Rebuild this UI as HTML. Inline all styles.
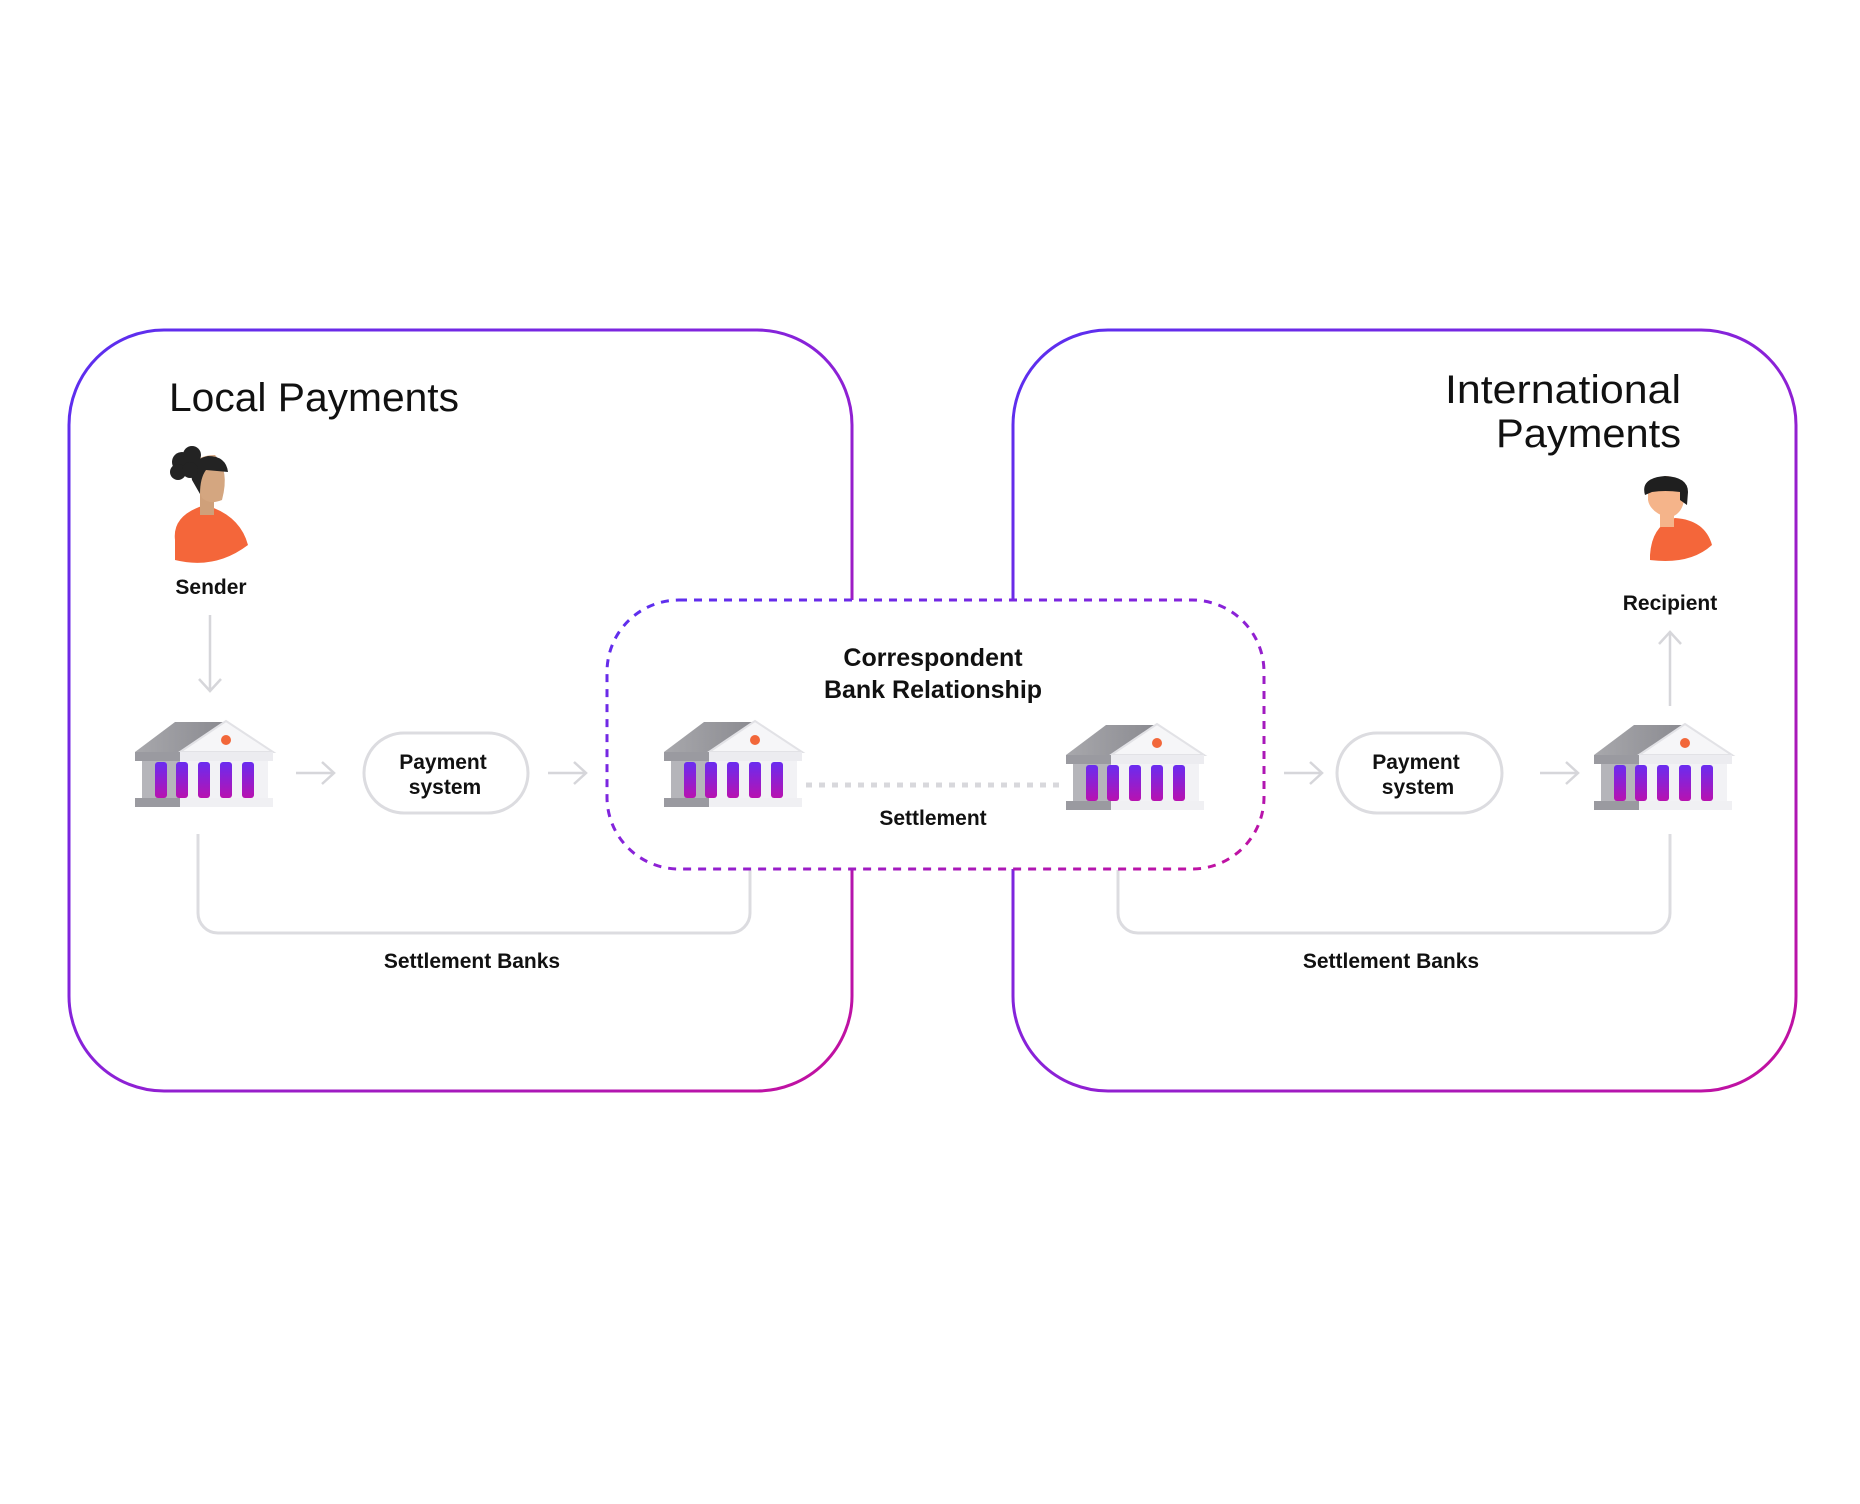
<!DOCTYPE html>
<html><head><meta charset="utf-8"><style>
html,body{margin:0;padding:0;background:#fff}
body{width:1860px;height:1499px;position:relative;overflow:hidden;font-family:"Liberation Sans",sans-serif}
</style></head><body>
<svg width="1860" height="1499" viewBox="0 0 1860 1499" xmlns="http://www.w3.org/2000/svg">
<defs>
<linearGradient id="g1" x1="0" y1="0" x2="1" y2="1">
<stop offset="0" stop-color="#5a2ff0"/><stop offset="0.5" stop-color="#8a22d8"/><stop offset="1" stop-color="#c4109e"/>
</linearGradient>
<linearGradient id="col" x1="0" y1="0" x2="0" y2="1">
<stop offset="0" stop-color="#6a2cf0"/><stop offset="1" stop-color="#b812b0"/>
</linearGradient>
<linearGradient id="roof" x1="0" y1="0" x2="1" y2="0">
<stop offset="0" stop-color="#a8a8ac"/><stop offset="1" stop-color="#8a8a90"/>
</linearGradient>
<g id="bank">
<polygon points="5,37 45,7 96,7 55,37" fill="url(#roof)"/>
<polygon points="50,37 96,6 143,37" fill="#f6f6f8" stroke="#e2e2e6" stroke-width="2"/>
<circle cx="96" cy="25" r="5" fill="#f2673a"/>
<rect x="5" y="37" width="50" height="9" fill="#9a9aa0"/>
<rect x="50" y="37" width="93" height="9" fill="#ececf0"/>
<rect x="12" y="46" width="38" height="38" fill="#b5b5ba"/>
<rect x="50" y="46" width="88" height="38" fill="#f2f2f5"/>
<rect x="25" y="47" width="12" height="36" rx="3" fill="url(#col)"/>
<rect x="46" y="47" width="12" height="36" rx="3" fill="url(#col)"/>
<rect x="68" y="47" width="12" height="36" rx="3" fill="url(#col)"/>
<rect x="90" y="47" width="12" height="36" rx="3" fill="url(#col)"/>
<rect x="112" y="47" width="12" height="36" rx="3" fill="url(#col)"/>
<rect x="5" y="83" width="48" height="9" fill="#9a9aa0"/>
<rect x="50" y="83" width="93" height="9" fill="#f0f0f3"/>
</g>
</defs>

<rect x="69" y="330" width="783" height="761" rx="95" fill="none" stroke="url(#g1)" stroke-width="3"/>
<rect x="1013" y="330" width="783" height="761" rx="95" fill="none" stroke="url(#g1)" stroke-width="3"/>

<g fill="none" stroke="#dcdce0" stroke-width="3">
<path d="M198 834 V913 a20 20 0 0 0 20 20 H730 a20 20 0 0 0 20 -20 V870"/>
<path d="M1118 870 V913 a20 20 0 0 0 20 20 H1650 a20 20 0 0 0 20 -20 V834"/>
</g>

<rect x="607" y="600" width="657" height="269" rx="72" fill="#fff" stroke="url(#g1)" stroke-width="3" stroke-dasharray="8 7"/>

<g fill="none" stroke="#d6d6da" stroke-width="2.5">
<path d="M210 615 V690 M199 679 L210 691 L221 679"/>
<path d="M1670 706 V632 M1659 644 L1670 632 L1681 644"/>
<path d="M296 773 H333 M322 762 L334 773 L322 784"/>
<path d="M548 773 H585 M574 762 L586 773 L574 784"/>
<path d="M1284 773 H1321 M1310 762 L1322 773 L1310 784"/>
<path d="M1540 773 H1577 M1566 762 L1578 773 L1566 784"/>
</g>
<line x1="806" y1="785" x2="1062" y2="785" stroke="#d8d8dc" stroke-width="5" stroke-dasharray="6 7"/>

<rect x="364" y="733" width="164" height="80" rx="40" fill="#fff" stroke="#dcdce0" stroke-width="3"/>
<rect x="1337" y="733" width="165" height="80" rx="40" fill="#fff" stroke="#dcdce0" stroke-width="3"/>

<use href="#bank" x="130" y="715"/>
<use href="#bank" x="659" y="715"/>
<use href="#bank" x="1061" y="718"/>
<use href="#bank" x="1589" y="718"/>

<g>
<path d="M175 540 Q172 515 205 505 Q240 515 248 545 Q215 570 175 560 Z" fill="#f4663a"/>
<rect x="200" y="485" width="14" height="30" fill="#cfa07a"/>
<path d="M192 472 Q193 455 215 455 Q230 470 222 500 Q210 505 202 498 Q198 488 198 478 Z" fill="#d4a680"/>
<path d="M192 480 Q188 460 208 456 Q226 456 228 472 L206 470 Q200 478 200 494 Z" fill="#232323"/>
<circle cx="182" cy="462" r="10" fill="#232323"/><circle cx="192" cy="455" r="9" fill="#232323"/><circle cx="178" cy="472" r="8" fill="#232323"/><circle cx="190" cy="470" r="8" fill="#232323"/>
</g>
<g>
<path d="M1650 555 Q1652 525 1675 518 Q1705 520 1712 545 Q1690 565 1650 560 Z" fill="#f4663a"/>
<rect x="1660" y="505" width="14" height="22" fill="#f5b48a"/>
<path d="M1648 490 Q1648 478 1668 476 Q1685 480 1684 500 Q1682 515 1668 518 Q1650 512 1648 500 Z" fill="#f5b48a"/>
<path d="M1645 495 Q1640 478 1665 476 Q1688 477 1688 492 L1687 505 L1680 500 L1680 492 Q1665 490 1652 492 Z" fill="#1f1f1f"/>
</g>

<g font-family="'Liberation Sans',sans-serif" fill="#111">
<text x="169" y="411" font-size="40" textLength="290" lengthAdjust="spacingAndGlyphs">Local Payments</text>
<text x="1681" y="403" font-size="40" text-anchor="end" textLength="236" lengthAdjust="spacingAndGlyphs">International</text>
<text x="1681" y="447" font-size="40" text-anchor="end" textLength="185" lengthAdjust="spacingAndGlyphs">Payments</text>
<g font-weight="bold" font-size="21" text-anchor="middle">
<text x="211" y="594">Sender</text>
<text x="1670" y="610">Recipient</text>
<text x="443" y="769">Payment</text>
<text x="445" y="794">system</text>
<text x="1416" y="769">Payment</text>
<text x="1418" y="794">system</text>
<text x="933" y="666" font-size="25">Correspondent</text>
<text x="933" y="698" font-size="25">Bank Relationship</text>
<text x="933" y="825">Settlement</text>
<text x="472" y="968">Settlement Banks</text>
<text x="1391" y="968">Settlement Banks</text>
</g>
</g>
</svg>
</body></html>
